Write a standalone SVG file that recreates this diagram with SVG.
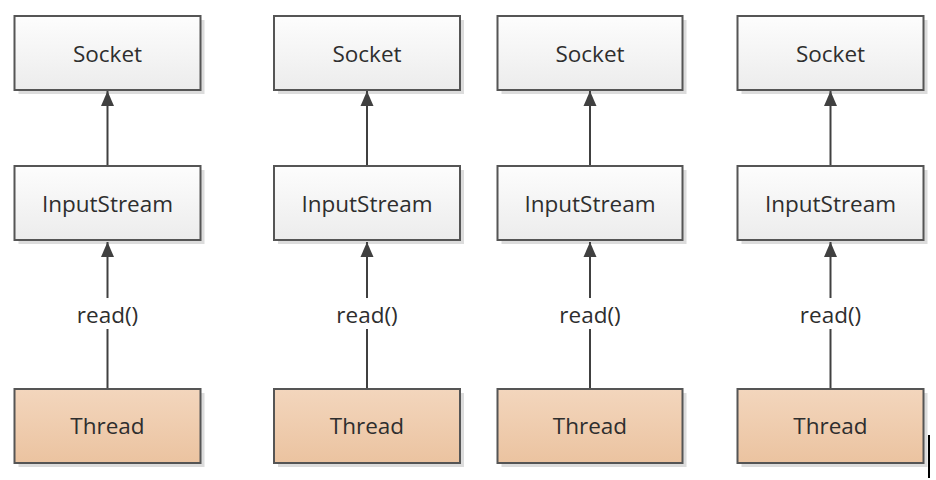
<svg xmlns="http://www.w3.org/2000/svg" width="936" height="480" viewBox="0 0 936 480">
<defs>
<linearGradient id="gw" x1="0" y1="0" x2="0" y2="1"><stop offset="0" stop-color="#fdfdfd"/><stop offset="1" stop-color="#ececec"/></linearGradient>
<linearGradient id="go" x1="0" y1="0" x2="0" y2="1"><stop offset="0" stop-color="#f3d6bd"/><stop offset="1" stop-color="#ebc3a0"/></linearGradient>
<marker id="ah" markerWidth="15" markerHeight="14" refX="15" refY="7" orient="auto" markerUnits="userSpaceOnUse"><path d="M0,0.5 L15,7 L0,13.5 Z" fill="#404040"/></marker>
</defs>
<style>
.sh{fill:#dcdcdc}
.bw{fill:url(#gw);stroke:#555;stroke-width:2}
.bo{fill:url(#go);stroke:#555;stroke-width:2}
.t{font-family:"Open Sans","Noto Sans",sans-serif;font-size:22.5px;fill:#2e2e2e;text-anchor:middle}
.c{stroke:#404040;stroke-width:2;fill:none}
</style>
<rect width="936" height="480" fill="#fff"/>
<g id="col1-socket"><rect class="sh" x="18.5" y="20" width="186" height="74"/><rect class="bw" x="14.5" y="16" width="186" height="74"/><text class="t" x="107.5" y="61.5">Socket</text></g>
<g id="col1-inputstream"><rect class="sh" x="18.5" y="170" width="186" height="74"/><rect class="bw" x="14.5" y="166" width="186" height="74"/><text class="t" x="107.5" y="211.5">InputStream</text></g>
<g id="col1-thread"><rect class="sh" x="18.5" y="393" width="186" height="74"/><rect class="bo" x="14.5" y="389" width="186" height="74"/><text class="t" x="107.5" y="433.5">Thread</text></g>

<g id="col2-socket"><rect class="sh" x="278" y="20" width="186" height="74"/><rect class="bw" x="274" y="16" width="186" height="74"/><text class="t" x="367" y="61.5">Socket</text></g>
<g id="col2-inputstream"><rect class="sh" x="278" y="170" width="186" height="74"/><rect class="bw" x="274" y="166" width="186" height="74"/><text class="t" x="367" y="211.5">InputStream</text></g>
<g id="col2-thread"><rect class="sh" x="278" y="393" width="186" height="74"/><rect class="bo" x="274" y="389" width="186" height="74"/><text class="t" x="367" y="433.5">Thread</text></g>

<g id="col3-socket"><rect class="sh" x="501.5" y="20" width="185" height="74"/><rect class="bw" x="497.5" y="16" width="185" height="74"/><text class="t" x="590" y="61.5">Socket</text></g>
<g id="col3-inputstream"><rect class="sh" x="501.5" y="170" width="185" height="74"/><rect class="bw" x="497.5" y="166" width="185" height="74"/><text class="t" x="590" y="211.5">InputStream</text></g>
<g id="col3-thread"><rect class="sh" x="501.5" y="393" width="185" height="74"/><rect class="bo" x="497.5" y="389" width="185" height="74"/><text class="t" x="590" y="433.5">Thread</text></g>

<g id="col4-socket"><rect class="sh" x="741.5" y="20" width="186" height="74"/><rect class="bw" x="737.5" y="16" width="186" height="74"/><text class="t" x="830.5" y="61.5">Socket</text></g>
<g id="col4-inputstream"><rect class="sh" x="741.5" y="170" width="186" height="74"/><rect class="bw" x="737.5" y="166" width="186" height="74"/><text class="t" x="830.5" y="211.5">InputStream</text></g>
<g id="col4-thread"><rect class="sh" x="741.5" y="393" width="186" height="74"/><rect class="bo" x="737.5" y="389" width="186" height="74"/><text class="t" x="830.5" y="433.5">Thread</text></g>

<g id="connectors">
<line class="c" x1="107.5" y1="165" x2="107.5" y2="91" marker-end="url(#ah)"/>
<line class="c" x1="367" y1="165" x2="367" y2="91" marker-end="url(#ah)"/>
<line class="c" x1="590" y1="165" x2="590" y2="91" marker-end="url(#ah)"/>
<line class="c" x1="830.5" y1="165" x2="830.5" y2="91" marker-end="url(#ah)"/>
<line class="c" x1="107.5" y1="388" x2="107.5" y2="329"/><line class="c" x1="107.5" y1="298" x2="107.5" y2="242" marker-end="url(#ah)"/>
<line class="c" x1="367" y1="388" x2="367" y2="329"/><line class="c" x1="367" y1="298" x2="367" y2="242" marker-end="url(#ah)"/>
<line class="c" x1="590" y1="388" x2="590" y2="329"/><line class="c" x1="590" y1="298" x2="590" y2="242" marker-end="url(#ah)"/>
<line class="c" x1="830.5" y1="388" x2="830.5" y2="329"/><line class="c" x1="830.5" y1="298" x2="830.5" y2="242" marker-end="url(#ah)"/>
<text class="t" x="107.5" y="322.5">read()</text>
<text class="t" x="367" y="322.5">read()</text>
<text class="t" x="590" y="322.5">read()</text>
<text class="t" x="830.5" y="322.5">read()</text>
</g>
<line x1="929" y1="435" x2="929" y2="478" stroke="#000" stroke-width="2"/>
</svg>
